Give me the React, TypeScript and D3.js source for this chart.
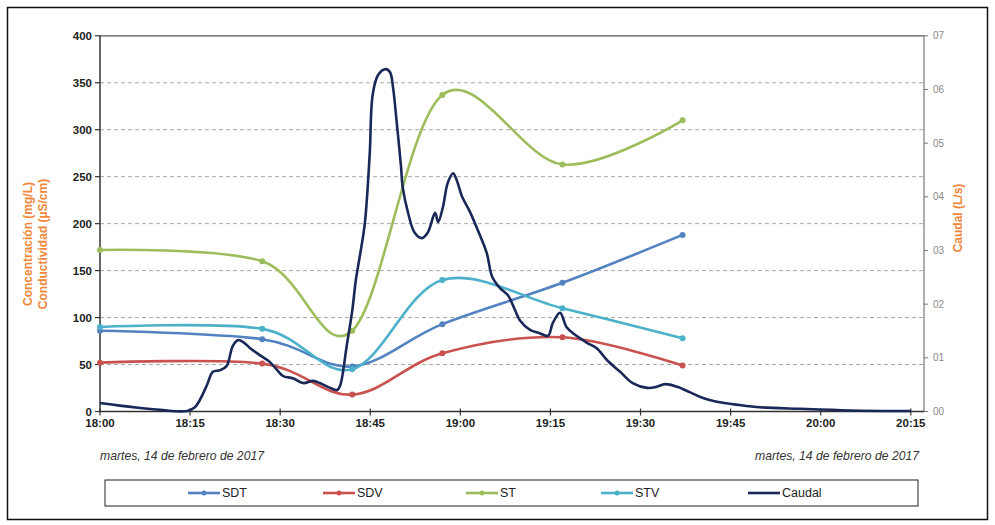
import * as d3 from 'd3';

// sample times (laboratory samples) and concentrations
const sampleTimes = ['18:00', '18:27', '18:42', '18:57', '19:17', '19:37'];
const sdt = [86, 77, 48, 93, 137, 188];
const sdv = [52, 51, 18, 62, 79, 49];
const st = [172, 160, 86, 337, 263, 310];
const stv = [90, 88, 45, 140, 110, 78];

// Caudal (L/s), minutes after 18:00
const caudalMin = [
  0, 3.3, 6.7, 10, 14.5, 15.8, 16.6, 17.8, 18.8, 20, 21.1, 22.1, 23, 24, 25, 26.6, 28.3, 29.5,
  30.5, 32.1, 33.8, 35.5, 36.6, 38.3, 39.5, 40, 41.1, 42, 42.6, 43.3, 44.1, 44.9, 45.4, 46.3,
  47.6, 48.3, 48.8, 49.4, 50.1, 50.4, 51.3, 52.4, 53.6, 54.6, 55.8, 56.3, 57.1, 57.9, 58.8,
  59.4, 60.3, 61.6, 62.9, 64.4, 65.3, 66.6, 67.9, 69.1, 69.9, 71.6, 73.2, 74.6, 75.4, 76.6,
  77.7, 79.1, 81.1, 82.7, 84.4, 86.6, 88.7, 91.1, 92.7, 94.1, 96.1, 98.2, 100.4, 102.7,
  106.5, 109.9, 116.5, 124.9, 135,
];
const caudalVal = [
  0.016, 0.011, 0.0065, 0.003, 0.001, 0.008, 0.021, 0.049, 0.074, 0.077, 0.085, 0.122, 0.133,
  0.128, 0.118, 0.105, 0.092, 0.077, 0.066, 0.062, 0.053, 0.057, 0.053, 0.044, 0.04, 0.049,
  0.124, 0.188, 0.245, 0.292, 0.351, 0.478, 0.59, 0.627, 0.638, 0.632, 0.603, 0.539, 0.459,
  0.418, 0.37, 0.333, 0.323, 0.334, 0.37, 0.353, 0.381, 0.426, 0.444, 0.431, 0.4, 0.372, 0.338,
  0.295, 0.251, 0.23, 0.217, 0.189, 0.17, 0.152, 0.146, 0.141, 0.165, 0.184, 0.157, 0.143,
  0.128, 0.118, 0.096, 0.074, 0.053, 0.044, 0.046, 0.051, 0.046, 0.036, 0.025, 0.018, 0.012,
  0.008, 0.005, 0.002, 0.001,
];

const leftTicks = [0, 50, 100, 150, 200, 250, 300, 350, 400];
const rightTicks = [0, 0.1, 0.2, 0.3, 0.4, 0.5, 0.6, 0.7];
const dateLabel = 'martes, 14 de febrero de 2017';

const W = 995;
const H = 525;
const plot = { left: 100, right: 924, top: 35.8, bottom: 411.5 };
const ORANGE = '#f0873a';
const FONT = '"Liberation Sans", Arial, sans-serif';

const base = new Date(2017, 1, 14, 18, 0);
const atMin = (m: number) => new Date(base.getTime() + m * 60000);
const parseT = (s: string) => {
  const [h, m] = s.split(':').map(Number);
  return atMin((h - 18) * 60 + m);
};

const x = d3.scaleTime().domain([base, atMin(137.2)]).range([plot.left, plot.right]);
const yL = d3.scaleLinear().domain([0, 400]).range([plot.bottom, plot.top]);
const yR = d3.scaleLinear().domain([0, 0.7]).range([plot.bottom, plot.top]);

const series = [
  { name: 'SDT', values: sdt, color: '#5282c0' },
  { name: 'SDV', values: sdv, color: '#c9514e' },
  { name: 'ST', values: st, color: '#9dbd5c' },
  { name: 'STV', values: stv, color: '#4bb0c9' },
];
const caudalColor = '#1a2858';

const legendX = [188, 323, 466, 601, 748];

export default function App() {
  // Excel-like smoothing (uniform Catmull-Rom)
  const smooth = d3
    .line<[Date, number]>()
    .x((d) => x(d[0]))
    .y((d) => yL(d[1]))
    .curve(d3.curveCatmullRom.alpha(0));

  const caudalLine = d3
    .line<number>()
    .x((_, i) => x(atMin(caudalMin[i])))
    .y((d) => yR(d))
    .curve(d3.curveCatmullRom.alpha(0.5));

  const xTicks = d3.range(0, 136, 15).map(atMin);
  const fmt = d3.timeFormat('%H:%M');

  return (
    <svg
      width={W}
      height={H}
      style={{ position: 'absolute', left: 0, top: 0, background: '#fff' }}
      fontFamily={FONT}
    >
      <rect x={7.5} y={7.5} width={980} height={512} fill="#fff" stroke="#111" strokeWidth={1.5} />

      {/* gridlines */}
      {leftTicks.slice(1, -1).map((t) => (
        <line
          key={t}
          x1={plot.left}
          x2={plot.right}
          y1={yL(t)}
          y2={yL(t)}
          stroke="#a8a8a8"
          strokeDasharray="4,3"
          strokeWidth={1}
        />
      ))}
      <line x1={plot.left} x2={plot.right} y1={plot.top} y2={plot.top} stroke="#555" strokeWidth={1.2} />

      {/* left axis */}
      <line x1={plot.left} x2={plot.left} y1={plot.top} y2={plot.bottom} stroke="#333" strokeWidth={1.5} />
      {leftTicks.map((t) => (
        <g key={t} transform={`translate(0,${yL(t)})`}>
          <line x1={plot.left - 5} x2={plot.left} stroke="#333" strokeWidth={1.2} />
          <text x={plot.left - 8} dy="0.35em" textAnchor="end" fontSize={11.5} fontWeight="bold" fill="#222">
            {t}
          </text>
        </g>
      ))}

      {/* right axis */}
      <line x1={plot.right} x2={plot.right} y1={plot.top} y2={plot.bottom} stroke="#777" strokeWidth={1.2} />
      {rightTicks.map((t) => (
        <g key={t} transform={`translate(0,${yR(t)})`}>
          <line x1={plot.right} x2={plot.right + 4} stroke="#777" />
          <text x={plot.right + 9} dy="0.35em" fontSize={10} fill="#888">
            {t.toFixed(1).replace('.', '')}
          </text>
        </g>
      ))}

      {/* x axis */}
      <line x1={plot.left} x2={plot.right} y1={plot.bottom} y2={plot.bottom} stroke="#333" strokeWidth={1.5} />
      {xTicks.map((t, i) => (
        <g key={i} transform={`translate(${x(t)},0)`}>
          <line y1={plot.bottom - 3} y2={plot.bottom + 4} stroke="#333" strokeWidth={1.2} />
          <text y={plot.bottom + 15.5} textAnchor="middle" fontSize={11.5} fontWeight="bold" fill="#222">
            {fmt(t)}
          </text>
        </g>
      ))}

      {/* date labels */}
      <text x={100} y={460} fontSize={12.2} fontStyle="italic" fill="#333">
        {dateLabel}
      </text>
      <text x={919} y={460} fontSize={12.2} fontStyle="italic" fill="#333" textAnchor="end">
        {dateLabel}
      </text>

      {/* axis titles */}
      <g transform="translate(32,244) rotate(-90)" fill={ORANGE} fontSize={12} fontWeight="bold" textAnchor="middle">
        <text y={0}>Concentración (mg/L)</text>
        <text y={15}>Conductividad (µS/cm)</text>
      </g>
      <text
        transform="translate(962,218) rotate(-90)"
        fill={ORANGE}
        fontSize={12}
        fontWeight="bold"
        textAnchor="middle"
      >
        Caudal (L/s)
      </text>

      {/* sample series */}
      {series.map((s) => {
        const pts: [Date, number][] = sampleTimes.map((t, i) => [parseT(t), s.values[i]]);
        return (
          <g key={s.name}>
            <path d={smooth(pts) ?? ''} fill="none" stroke={s.color} strokeWidth={2.6} />
            {pts.map((p, i) => (
              <circle key={i} cx={x(p[0])} cy={yL(p[1])} r={3} fill={s.color} />
            ))}
          </g>
        );
      })}

      {/* caudal */}
      <path d={caudalLine(caudalVal) ?? ''} fill="none" stroke={caudalColor} strokeWidth={2.6} />

      {/* legend */}
      <rect x={105} y={480} width={813} height={26} fill="#fff" stroke="#222" strokeWidth={1} />
      {series.map((s, i) => (
        <g key={s.name} transform={`translate(${legendX[i]},493)`}>
          <line x1={0} x2={32} stroke={s.color} strokeWidth={2.6} />
          <circle cx={16} cy={0} r={2.5} fill={s.color} />
          <text x={34} dy="0.35em" fontSize={12.5} fill="#222">
            {s.name}
          </text>
        </g>
      ))}
      <g transform={`translate(${legendX[4]},493)`}>
        <line x1={0} x2={32} stroke={caudalColor} strokeWidth={2.6} />
        <text x={34} dy="0.35em" fontSize={12.5} fill="#222">
          Caudal
        </text>
      </g>
    </svg>
  );
}
